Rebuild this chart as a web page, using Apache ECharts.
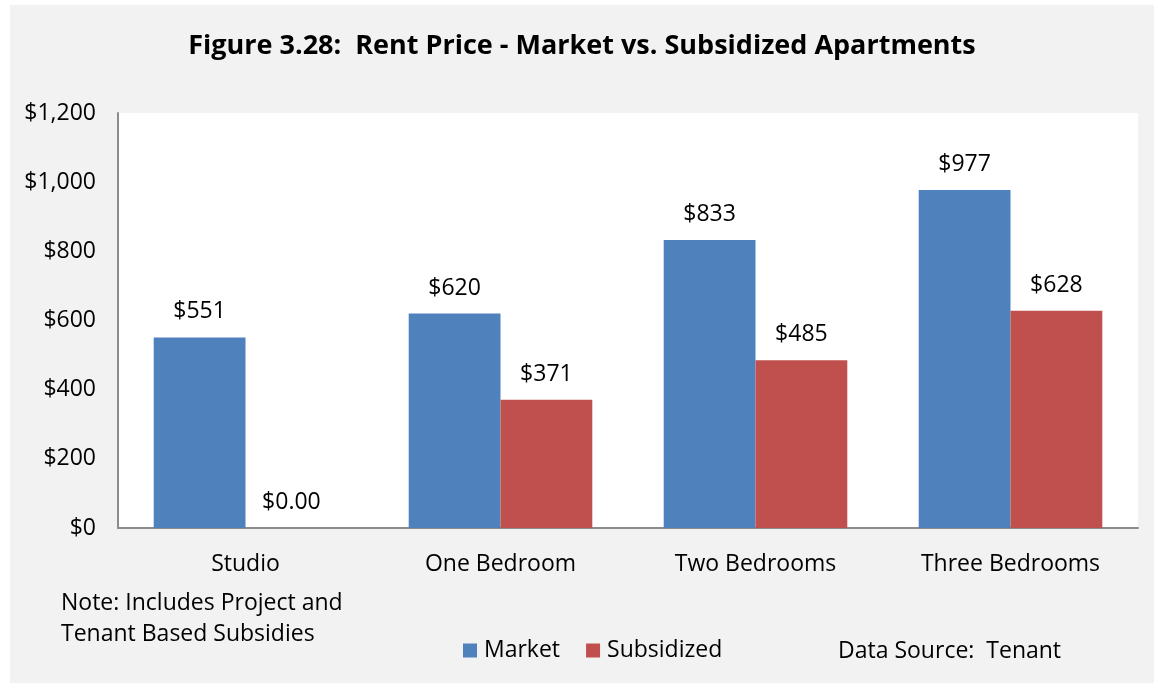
<!DOCTYPE html>
<html>
<head>
<meta charset="utf-8">
<script src="https://cdn.jsdelivr.net/npm/echarts@6/dist/echarts.min.js"></script>
<style>
  html, body { margin: 0; padding: 0; background: #fff; }
  #chart { position: absolute; left: 10px; top: 5px; width: 1144px; height: 678px; }
</style>
</head>
<body>
<div id="chart"></div>
<script>
// chart data
const categories = ['Studio', 'One Bedroom', 'Two Bedrooms', 'Three Bedrooms'];
const marketRent = [551, 620, 833, 977];
const subsidizedRent = [0, 371, 485, 628];
const yTicks = [0, 200, 400, 600, 800, 1000, 1200];

const font = '"Open Sans", sans-serif';

function money(v) {
    if (v === 0) return '$0';
    return '$' + v.toLocaleString('en-US');
}

const chart = echarts.init(document.getElementById('chart'));
const option = {
    backgroundColor: '#f2f2f2',
    animation: false,
    title: {
        text: 'Figure 3.28:  Rent Price - Market vs. Subsidized Apartments',
        left: 'center',
        top: 23,
        textStyle: { fontFamily: font, fontWeight: 'bold', fontSize: 27, color: '#000' }
    },
    legend: {
        data: ['Market', 'Subsidized'],
        left: 453,
        top: 634,
        padding: 0,
        itemWidth: 14,
        itemHeight: 14,
        itemGap: 26,
        icon: 'rect',
        textStyle: { fontFamily: font, fontSize: 23, color: '#000', padding: [0, 0, 0, 2] }
    },
    grid: { left: 108, top: 108, width: 1020, height: 415, show: true, backgroundColor: '#fff', borderWidth: 0 },
    xAxis: {
        type: 'category',
        data: categories,
        axisLine: { lineStyle: { color: '#8c8c8c', width: 2 } },
        axisTick: { show: false },
        axisLabel: { fontFamily: font, fontSize: 23, color: '#000', margin: 25 }
    },
    yAxis: {
        type: 'value',
        min: yTicks[0],
        max: yTicks[yTicks.length - 1],
        interval: 200,
        splitLine: { show: false },
        axisLine: { show: true, lineStyle: { color: '#8c8c8c', width: 2 } },
        axisTick: { show: false },
        axisLabel: { fontFamily: font, fontSize: 23, color: '#000', margin: 22, formatter: money }
    },
    series: [
        {
            name: 'Market',
            type: 'bar',
            data: marketRent,
            barGap: '0%',
            barCategoryGap: '28%',
            itemStyle: { color: '#4f81bd' },
            label: {
                show: true, position: 'top', distance: 14,
                fontFamily: font, fontSize: 23, color: '#000',
                formatter: p => money(p.value)
            }
        },
        {
            name: 'Subsidized',
            type: 'bar',
            data: subsidizedRent,
            itemStyle: { color: '#c0504d' },
            label: {
                show: true, position: 'top', distance: 14,
                fontFamily: font, fontSize: 23, color: '#000',
                formatter: p => p.value === 0 ? '$0.00' : money(p.value)
            }
        }
    ],
    graphic: [
        {
            type: 'text', left: 51, top: 583,
            style: {
                text: 'Note: Includes Project and\nTenant Based Subsidies',
                fontFamily: font, fontSize: 23, lineHeight: 31, fill: '#000'
            }
        },
        {
            type: 'text', left: 828, top: 635,
            style: { text: 'Data Source:  Tenant', fontFamily: font, fontSize: 23, fill: '#000' }
        }
    ]
};
chart.setOption(option);
window.addEventListener('resize', () => chart.resize());
</script>
</body>
</html>
